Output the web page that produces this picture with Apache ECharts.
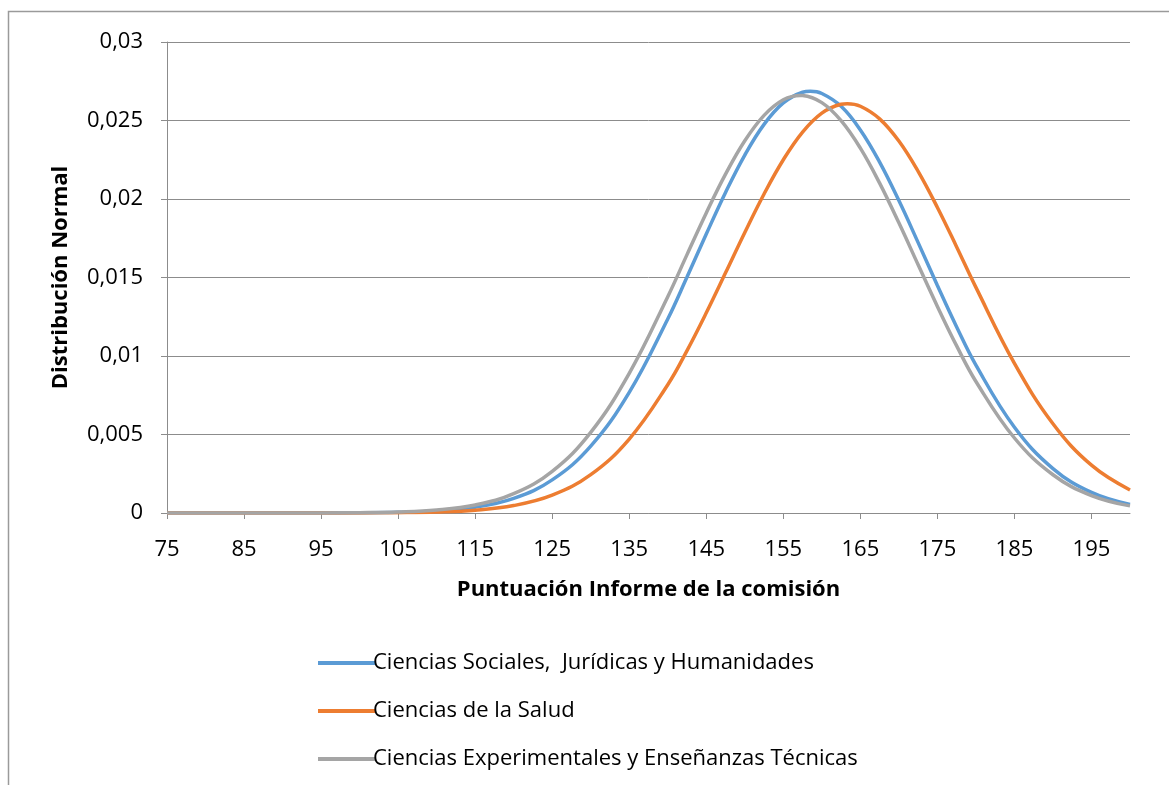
<!DOCTYPE html>
<html>
<head>
<meta charset="utf-8">
<script src="https://cdn.jsdelivr.net/npm/echarts@6/dist/echarts.min.js"></script>
<style>html,body{margin:0;padding:0;background:#fff}#c{width:1169px;height:785px}</style>
</head>
<body>
<div id="c"></div>
<script>
const xValues = [75,80,85,90,95,100,105,110,115,120,125,130,135,140,142.5,145,147.5,150,152.5,155,157.5,160,162.5,165,167.5,170,172.5,175,177.5,180,185,190,195,200];
const seriesNames = ['Ciencias Sociales,  Jurídicas y Humanidades','Ciencias de la Salud','Ciencias Experimentales y Enseñanzas Técnicas'];
const sociales = [0.0000000037,0.000000023,0.00000013,0.00000064,0.0000029,0.0000115,0.000041,0.00013,0.000368,0.000932,0.002108,0.004257,0.007682,0.01236,0.015034,0.01777,0.020417,0.0228,0.024755,0.02612,0.026799,0.02672,0.025903,0.0244,0.022353,0.0199,0.017223,0.01449,0.011848,0.009417,0.005461,0.002831,0.00131,0.000541];
const salud = [0.000000001,0.00000001,0.000000053,0.00000027,0.00000123,0.000005,0.0000183,0.00006,0.000179,0.000475,0.001136,0.002442,0.004711,0.008173,0.010347,0.01275,0.015295,0.01787,0.020322,0.0225,0.024263,0.02547,0.026034,0.02591,0.025105,0.02369,0.021758,0.01946,0.016948,0.01437,0.009534,0.005686,0.003045,0.001468];
const experimentales = [0.000000008,0.000000047,0.00000025,0.00000116,0.0000049,0.0000185,0.000062,0.000188,0.000509,0.001229,0.002656,0.005139,0.008898,0.01378,0.016457,0.01911,0.021581,0.02371,0.025326,0.02632,0.026595,0.02614,0.024991,0.02324,0.021011,0.01848,0.015811,0.01316,0.010645,0.008379,0.004777,0.002435,0.001112,0.000454];
// peak of each curve (x, y)
const peakX = [158.5, 163.3, 157.2];
const peakY = [0.02686, 0.02607, 0.0266];
const yTicks = [0,0.005,0.01,0.015,0.02,0.025,0.03];

const colors = ['#5B9BD5','#ED7D31','#A5A5A5'];
const allData = [sociales, salud, experimentales];
const font = '"Open Sans", Lato, sans-serif';

function buildData(i){
  const pts = xValues.map((x,j)=>[x,allData[i][j]]);
  pts.push([peakX[i],peakY[i]]);
  pts.sort((a,b)=>a[0]-b[0]);
  return pts;
}

const chart = echarts.init(document.getElementById('c'), null, {renderer:'canvas'});
chart.setOption({
  animation:false,
  backgroundColor:'#fff',
  graphic:[{type:'rect',shape:{x:8.5,y:11.5,width:2000,height:2000},style:{fill:'none',stroke:'#9a9a9a',lineWidth:1.5},silent:true}],
  grid:{left:167,right:39,top:42,bottom:272,containLabel:false},
  xAxis:{
    type:'value',min:75,max:200,interval:10,
    name:'Puntuación Informe de la comisión',nameLocation:'middle',nameGap:66,
    nameTextStyle:{fontFamily:font,fontSize:22,fontWeight:'bold',color:'#000'},
    axisLine:{show:true,lineStyle:{color:'#8c8c8c',width:1}},
    axisTick:{show:true,length:6,lineStyle:{color:'#8c8c8c'}},
    axisLabel:{fontFamily:font,fontSize:22,color:'#000',margin:26,showMaxLabel:false},
    splitLine:{show:false}
  },
  yAxis:{
    type:'value',min:0,max:0.03,interval:0.005,
    name:'Distribución Normal',nameLocation:'middle',nameGap:95,nameRotate:90,
    nameTextStyle:{fontFamily:font,fontSize:22,fontWeight:'bold',color:'#000'},
    axisLine:{show:true,lineStyle:{color:'#8c8c8c',width:1}},
    axisTick:{show:true,length:6,lineStyle:{color:'#8c8c8c'}},
    axisLabel:{fontFamily:font,fontSize:22,color:'#000',margin:24,
      formatter:v=>{const t=yTicks.find(k=>Math.abs(k-v)<1e-9);return (t===undefined?v:t).toString().replace('.',',');}},
    splitLine:{show:true,lineStyle:{color:'#8c8c8c',width:1}}
  },
  legend:{
    orient:'vertical',left:313,top:647,itemGap:26,itemWidth:57,itemHeight:4,
    icon:'rect',
    textStyle:{fontFamily:font,fontSize:22,color:'#000',padding:[0,0,0,-7]},
    data:seriesNames
  },
  series: seriesNames.map((n,i)=>({
    name:n,type:'line',smooth:0.4,showSymbol:false,symbol:'none',
    lineStyle:{color:colors[i],width:3.5},itemStyle:{color:colors[i]},
    data:buildData(i)
  }))
});
</script>
</body>
</html>
